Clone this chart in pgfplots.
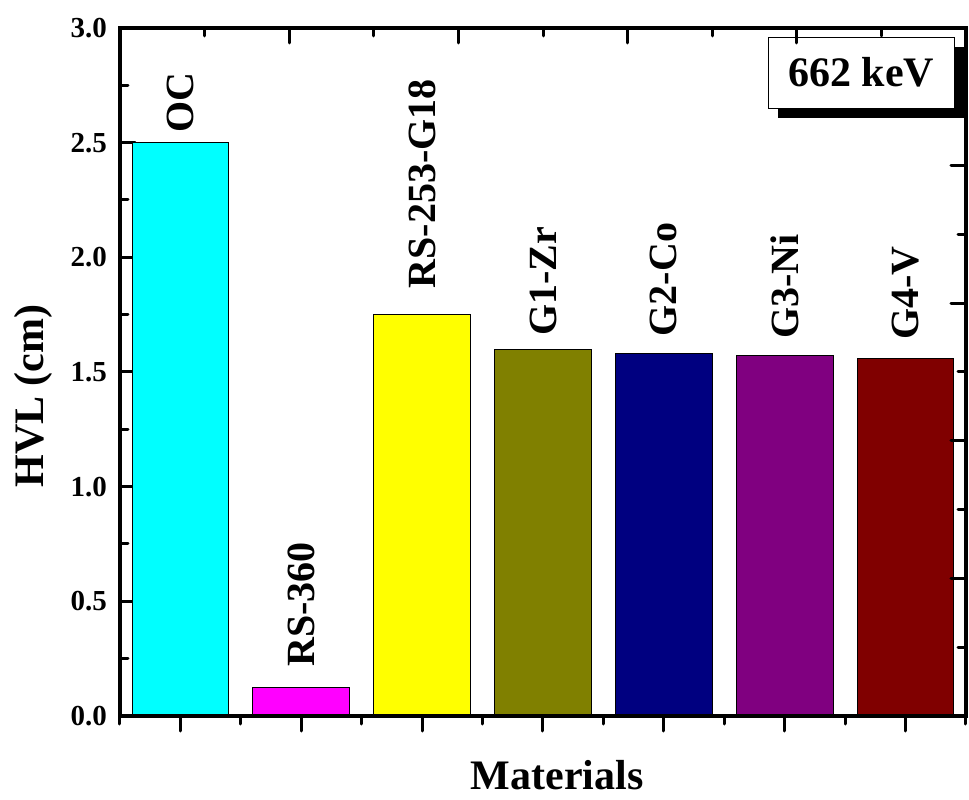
\documentclass[border=0pt]{standalone}
\usepackage{fontspec}
\setmainfont{Liberation Serif}
\usepackage{pgfplots}
\pgfplotsset{compat=1.18}
\definecolor{cOC}{RGB}{0,255,255}
\definecolor{cRS}{RGB}{255,0,255}
\definecolor{cRSG}{RGB}{255,255,0}
\definecolor{cG1}{RGB}{128,128,0}
\definecolor{cG2}{RGB}{0,0,128}
\definecolor{cG3}{RGB}{128,0,128}
\definecolor{cG4}{RGB}{128,0,0}
\pgfplotsset{
  mybar/.style={ybar, bar width=0.8, bar shift=0pt, draw=black, line width=1pt,
    nodes near coords align={horizontal},
    every node near coord/.append style={rotate=90, anchor=west, black,
      font=\fontsize{40}{40}\selectfont\bfseries, inner ysep=0pt, inner xsep=#1}},
}
\begin{document}
\begin{tikzpicture}
\useasboundingbox (-120pt,-84pt) rectangle (849pt,716pt);
\begin{axis}[
  name=main, at={(0pt,0pt)}, anchor=south west,
  scale only axis, width=846pt, height=688pt,
  xmin=-0.5, xmax=6.5, ymin=0, ymax=3,
  xtick={0,...,6}, xticklabels={},
  minor xtick={-0.5,0.5,...,6.5},
  ytick={0,0.5,...,3.0},
  minor ytick={0.25,0.75,...,2.75},
  xtick pos=left, ytick pos=left,
  xtick align=outside, ytick align=inside,
  major tick length=15pt, minor tick length=8pt,
  every tick/.style={black, line width=3pt, line cap=round},
  axis line style={line width=3.5pt},
  /pgf/number format/assume math mode=true,
  yticklabel style={/pgf/number format/fixed, /pgf/number format/fixed zerofill,
    /pgf/number format/precision=1, font=\fontsize{29}{30}\selectfont\bfseries,
    inner sep=0pt, xshift=-13pt},
  xlabel={Materials},
  xlabel style={at={(axis description cs:0.5166,-0.086)}, anchor=center, inner sep=0pt,
    font=\fontsize{42}{42}\selectfont\bfseries},
  ylabel={HVL (cm)},
  ylabel style={at={(axis description cs:-0.1028,0.465)}, anchor=center,
    font=\fontsize{42}{42}\selectfont\bfseries},
]
\addplot[mybar=10pt, fill=cOC, nodes near coords={OC}] coordinates {(0,2.50)};
\addplot[mybar=20pt, fill=cRS, nodes near coords={RS-360}] coordinates {(1,0.125)};
\addplot[mybar=26pt, fill=cRSG, nodes near coords={RS-253-G18}] coordinates {(2,1.75)};
\addplot[mybar=13pt, fill=cG1, nodes near coords={G1-Zr}] coordinates {(3,1.60)};
\addplot[mybar=17pt, fill=cG2, nodes near coords={G2-Co}] coordinates {(4,1.58)};
\addplot[mybar=17pt, fill=cG3, nodes near coords={G3-Ni}] coordinates {(5,1.57)};
\addplot[mybar=18pt, fill=cG4, nodes near coords={G4-V}] coordinates {(6,1.56)};
\node[fill=black, minimum width=186pt, minimum height=71pt, inner sep=0pt]
  at (rel axis cs:0.8877,0.9208) {};
\node[draw=black, fill=white, line width=1pt, minimum width=186pt, minimum height=71pt,
  inner sep=0pt, font=\fontsize{42}{42}\selectfont\bfseries]
  at (rel axis cs:0.876,0.935) {662 keV};
\end{axis}
\begin{axis}[
  at={(0pt,0pt)}, anchor=south west,
  scale only axis, width=846pt, height=688pt,
  xmin=0, xmax=5, ymin=0, ymax=5,
  xtick={0,...,5}, ytick={0,...,5},
  minor x tick num=1, minor y tick num=1,
  xticklabels={}, yticklabels={},
  xtick pos=right, ytick pos=right,
  tick align=inside,
  major tick length=15pt, minor tick length=8pt,
  every tick/.style={black, line width=3pt, line cap=round},
  axis line style={line width=3.5pt},
]
\end{axis}
\end{tikzpicture}
\end{document}
